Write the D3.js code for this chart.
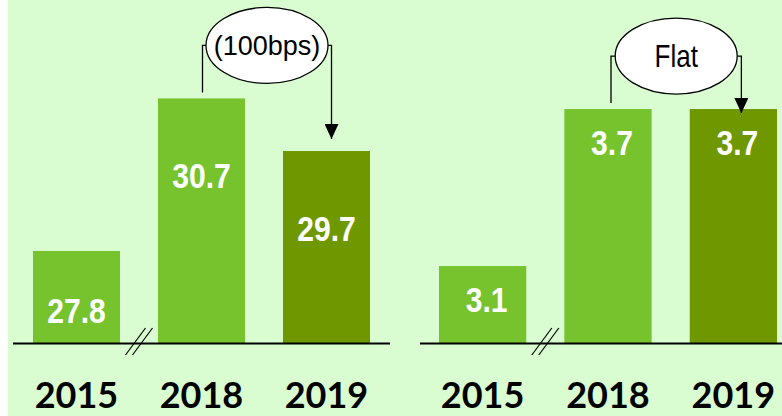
<!DOCTYPE html>
<meta charset='utf-8'>
<html>

<head>
    <script src="https://cdn.jsdelivr.net/npm/d3@7"></script>
    <style>
        body {
            padding: 0;
            margin: 0;
            background: #ffffff;
        }

        .value-label {
            font-family: "Liberation Sans", Arial, sans-serif;
            font-weight: bold;
            font-size: 35px;
            fill: #ffffff;
        }

        .year-label {
            font-family: Lato, "Open Sans", sans-serif;
            font-weight: bold;
            font-size: 36px;
            fill: #000000;
        }

        .change-label {
            font-family: "Liberation Sans", Arial, sans-serif;
            fill: #000000;
        }
    </style>
</head>

<body>
    <div id="chart"></div>

    <script>
        // data
        const years = ["2015", "2018", "2019"];
        const leftValues = [27.8, 30.7, 29.7];
        const rightValues = [3.1, 3.7, 3.7];
        const leftChange = "(100bps)";
        const rightChange = "Flat";

        const width = 782, height = 416;
        const baseY = 343;
        const lightGreen = "#76c32e", darkGreen = "#6f9800";

        var svg = d3.select('#chart')
            .append('svg')
            .attr('width', width)
            .attr('height', height);

        svg.append('rect')
            .attr('x', 8).attr('y', 0)
            .attr('width', width - 8).attr('height', height)
            .attr('fill', '#d9fdd0');

        // arrow head (points along the line)
        svg.append('defs').append('marker')
            .attr('id', 'arrow')
            .attr('viewBox', '0 0 15 14')
            .attr('refX', 15).attr('refY', 7)
            .attr('markerWidth', 15).attr('markerHeight', 14)
            .attr('markerUnits', 'userSpaceOnUse')
            .attr('orient', 'auto')
            .append('path')
            .attr('d', 'M0,0L15,7L0,14Z')
            .attr('fill', 'black');

        var panels = [
            {
                values: leftValues, change: leftChange, fontSize: 27, squeeze: 1,
                xRange: [33, 370], axisRange: [13, 390],
                base: 26.05, perUnit: 52.6,
                labelDrop: 90, labelDx: 0, arrowGap: -12, arrowDx: 5, fromDx: 1
            },
            {
                values: rightValues, change: rightChange, fontSize: 31, squeeze: 0.84,
                xRange: [439, 777], axisRange: [420, 782],
                base: 2.806, perUnit: 261.7,
                labelDrop: 46, labelDx: 4, arrowGap: 4, arrowDx: 8, fromDx: 3
            }
        ];

        panels.forEach(function (p) {
            var x = d3.scaleBand()
                .domain(years)
                .range(p.xRange)
                .paddingInner(0.304)
                .paddingOuter(0);
            var y = d3.scaleLinear()
                .domain([p.base, p.base + baseY / p.perUnit])
                .range([baseY, 0]);

            var g = svg.append('g');

            g.selectAll('.bar')
                .data(p.values)
                .enter()
                .append('rect')
                .attr('x', (d, i) => x(years[i]))
                .attr('y', d => y(d))
                .attr('width', x.bandwidth())
                .attr('height', d => baseY - y(d))
                .attr('fill', (d, i) => i == years.length - 1 ? darkGreen : lightGreen);

            // narrow bold labels: squeeze a regular font horizontally
            g.selectAll('.value-label')
                .data(p.values)
                .enter()
                .append('text')
                .attr('class', 'value-label')
                .attr('text-anchor', 'middle')
                .attr('transform', (d, i) => 'translate(' + (x(years[i]) + x.bandwidth() / 2 + p.labelDx) + ','
                    + Math.min(y(d) + p.labelDrop, baseY - 20) + ') scale(0.86,1)')
                .text(d => d.toFixed(1));

            // base line
            g.append('line')
                .attr('x1', p.axisRange[0]).attr('x2', p.axisRange[1])
                .attr('y1', baseY + 0.5).attr('y2', baseY + 0.5)
                .attr('stroke', 'black')
                .attr('stroke-width', 2);

            // axis break between first and second bar
            var bx = (x(years[0]) + x.bandwidth() + x(years[1])) / 2;
            [-3.5, 3.5].forEach(function (off) {
                g.append('line')
                    .attr('x1', bx + off - 10).attr('y1', baseY + 12)
                    .attr('x2', bx + off + 10).attr('y2', baseY - 15)
                    .attr('stroke', 'black')
                    .attr('stroke-width', 1.2);
            });

            g.selectAll('.year-label')
                .data(years)
                .enter()
                .append('text')
                .attr('class', 'year-label')
                .attr('text-anchor', 'middle')
                .attr('x', d => x(d) + x.bandwidth() / 2)
                .attr('y', 408)
                .text(d => d);

            // change callout from 2018 to 2019
            var v1 = p.values[1], v2 = p.values[2];
            var fx = x(years[1]) + x.bandwidth() / 2 + p.fromDx;
            var tx = x(years[2]) + x.bandwidth() / 2 + p.arrowDx;
            var cx = (fx + tx) / 2;
            var cy = Math.min(y(v1), y(v2)) - 53;
            var rx = 61, ry = 38;

            g.append('path')
                .attr('d', 'M' + fx + ',' + (y(v1) - 6) + 'V' + cy + 'H' + (cx - rx))
                .attr('fill', 'none')
                .attr('stroke', 'black')
                .attr('stroke-width', 1.3);

            g.append('path')
                .attr('d', 'M' + (cx + rx) + ',' + cy + 'H' + tx + 'V' + (y(v2) + p.arrowGap))
                .attr('fill', 'none')
                .attr('stroke', 'black')
                .attr('stroke-width', 1.3)
                .attr('marker-end', 'url(#arrow)');

            g.append('ellipse')
                .attr('cx', cx).attr('cy', cy)
                .attr('rx', rx).attr('ry', ry)
                .attr('fill', 'white')
                .attr('stroke', 'black')
                .attr('stroke-width', 1.3);

            g.append('text')
                .attr('class', 'change-label')
                .attr('text-anchor', 'middle')
                .attr('transform', 'translate(' + cx + ',' + (cy + p.fontSize * 0.36) + ') scale(' + p.squeeze + ',1)')
                .style('font-size', p.fontSize + 'px')
                .text(p.change);
        });
    </script>
</body>

</html>
